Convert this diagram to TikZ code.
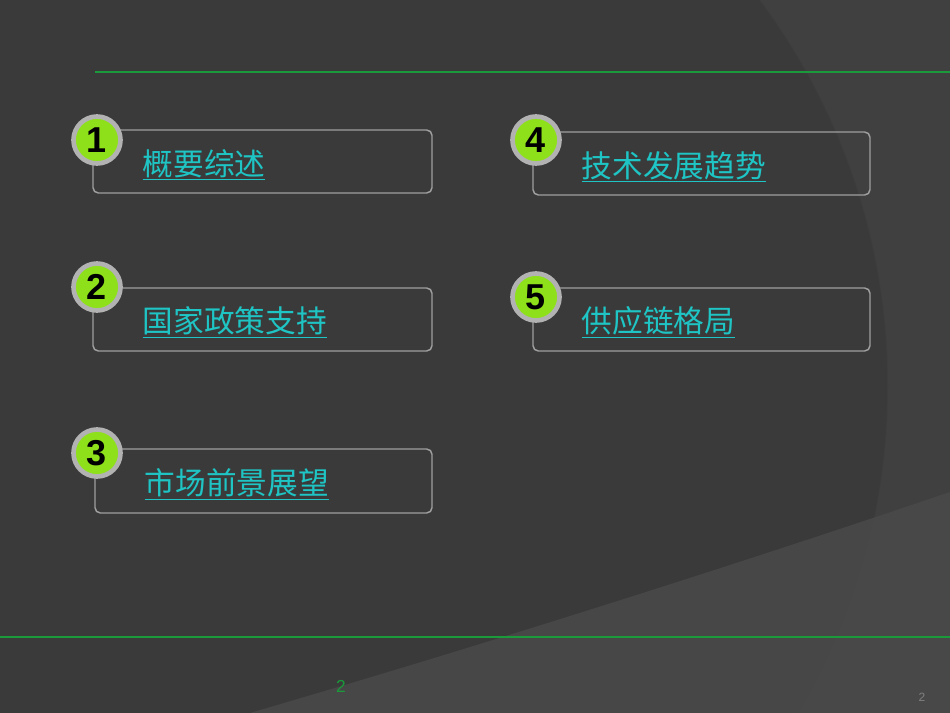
\documentclass[tikz,border=0pt]{standalone}
\usepackage{fontspec}
\setmainfont{Liberation Sans}
\newfontfamily\cjk{Noto Sans CJK SC}
\definecolor{bg}{HTML}{3A3A3A}
\definecolor{bgout}{HTML}{404040}
\definecolor{wedge}{HTML}{4A4A4A}
\definecolor{gline}{HTML}{1A9A3A}
\definecolor{lime}{HTML}{8EE01A}
\definecolor{cyantext}{HTML}{1FC4C4}
\begin{document}
\begin{tikzpicture}[x=0.75pt,y=-0.75pt,
  itembox/.style={draw=gray!75!white,line width=1.1pt,rounded corners=4pt},
  badge/.style={circle,fill=lime,draw=gray!60!white,line width=3.5pt,minimum size=47pt*0.75,inner sep=0pt,font=\fontsize{27}{27}\selectfont\bfseries},
  itemtext/.style={anchor=west,text=cyantext,font=\cjk\fontsize{23}{25}\selectfont}]
\fill[bgout] (0,0) rectangle (950,713);
\begin{scope}
\clip (0,0) rectangle (950,713);
\fill[bg] (242,386) circle (646*0.75pt);
\draw[black!75,opacity=0.5,line width=1.2pt] (242,386) circle (646*0.75pt);
\fill[wedge,opacity=0.85] (250,713) .. controls (500,640) and (750,560) .. (950,492) -- (950,713) -- cycle;
\end{scope}
\useasboundingbox (0,0) rectangle (950,713);
\draw[gline,line width=2pt] (95,72) -- (950,72);
\draw[gline,line width=2pt] (0,637) -- (950,637);
\node[text=gline,font=\fontsize{13}{13}\selectfont] (pg) at (341,686) {2};
\node[text=gray,font=\fontsize{9}{9}\selectfont] (pg2) at (922,697) {2};
% boxes
\draw[itembox] (93,130) rectangle (432,193);
\node[badge] (b1) at (97,140) {1};
\node[itemtext] (t1) at (138,165) {\underline{概要综述}};
\draw[itembox] (93,288) rectangle (432,351);
\node[badge] (b2) at (97,287) {2};
\node[itemtext] (t2) at (138,322) {\underline{国家政策支持}};
\draw[itembox] (95,449) rectangle (432,513);
\node[badge] (b3) at (97,453) {3};
\node[itemtext] (t3) at (140,484) {\underline{市场前景展望}};
\draw[itembox] (533,132) rectangle (870,195);
\node[badge] (b4) at (536,140) {4};
\node[itemtext] (t4) at (577,167) {\underline{技术发展趋势}};
\draw[itembox] (533,288) rectangle (870,351);
\node[badge] (b5) at (536,297) {5};
\node[itemtext] (t5) at (577,322) {\underline{供应链格局}};
\end{tikzpicture}
\end{document}
